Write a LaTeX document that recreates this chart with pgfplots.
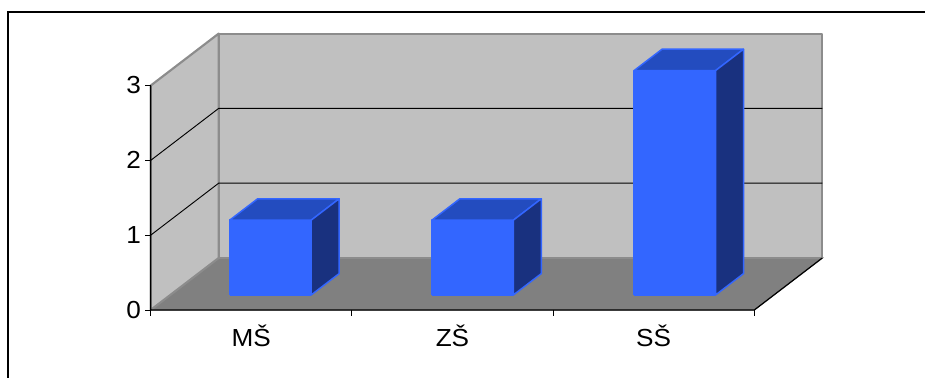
\documentclass[border=0pt]{standalone}
\usepackage{fontspec}
\setmainfont[FakeStretch=1.06]{Liberation Sans}
\usepackage{pgfplots}
\pgfplotsset{compat=1.18}
\definecolor{wall}{HTML}{C0C0C0}
\definecolor{floorgrey}{HTML}{808080}
\definecolor{edgegrey}{HTML}{8C8C8C}
\definecolor{barfront}{HTML}{3366FF}
\definecolor{bartop}{HTML}{234CBF}
\definecolor{barside}{HTML}{19317F}
\tikzset{
  face/.style={fill=#1, draw=barfront, line width=1.1pt, line join=round},
  axistext/.style={font=\fontsize{18.5}{20}\selectfont, text=black, inner sep=0pt},
}
\begin{document}
\begin{tikzpicture}
  \useasboundingbox (0pt,0pt) rectangle (693.75pt,283.5pt);
  % outer chart frame, open on the right and at the bottom
  \draw[black, line width=1.5pt] (6pt,0pt) -- (6pt,274.5pt) -- (693.75pt,274.5pt);
  \begin{axis}[
    at={(113.0pt,51pt)}, anchor=origin,
    x={(150.9pt,0pt)}, y={(51pt,39pt)}, z={(0pt,56.1pt)},
    xmin=0, xmax=3, ymin=0, ymax=1, zmin=0, zmax=3,
    hide axis, clip=false,
  ]
    % floor and walls
    \addplot3[fill=floorgrey, draw=floorgrey, line width=0.9pt] coordinates {(0,0,0) (3,0,0) (3,1,0) (0,1,0) (0,0,0)};
    \addplot3[fill=wall, draw=edgegrey, line width=1.6pt, line join=round] coordinates {(0,1,0) (3,1,0) (3,1,3) (0,1,3) (0,1,0)};
    \addplot3[fill=wall, draw=edgegrey, line width=1.6pt, line join=round] coordinates {(0,0,0) (0,1,0) (0,1,3) (0,0,3) (0,0,0)};
    % grid lines on the walls
    \addplot3[black, line width=0.7pt] coordinates {(0,0,1) (0,1,1) (3,1,1)};
    \addplot3[black, line width=0.7pt] coordinates {(0,0,2) (0,1,2) (3,1,2)};
    % axis lines and front floor edge
    \addplot3[black, line width=0.9pt] coordinates {(0,0,3) (0,0,0) (3,0,0) (3,1,0)};
    % bar MŠ = 1
    \addplot3[face=barfront] coordinates {(0.295,0.29,0) (0.7,0.29,0) (0.7,0.29,1) (0.295,0.29,1) (0.295,0.29,0)};
    \addplot3[face=bartop]   coordinates {(0.295,0.29,1) (0.7,0.29,1) (0.7,0.7,1) (0.295,0.7,1) (0.295,0.29,1)};
    \addplot3[face=barside]  coordinates {(0.7,0.29,0) (0.7,0.7,0) (0.7,0.7,1) (0.7,0.29,1) (0.7,0.29,0)};
    % bar ZŠ = 1
    \addplot3[face=barfront] coordinates {(1.3,0.29,0) (1.705,0.29,0) (1.705,0.29,1) (1.3,0.29,1) (1.3,0.29,0)};
    \addplot3[face=bartop]   coordinates {(1.3,0.29,1) (1.705,0.29,1) (1.705,0.7,1) (1.3,0.7,1) (1.3,0.29,1)};
    \addplot3[face=barside]  coordinates {(1.705,0.29,0) (1.705,0.7,0) (1.705,0.7,1) (1.705,0.29,1) (1.705,0.29,0)};
    % bar SŠ = 3
    \addplot3[face=barfront] coordinates {(2.305,0.29,0) (2.71,0.29,0) (2.71,0.29,3) (2.305,0.29,3) (2.305,0.29,0)};
    \addplot3[face=bartop]   coordinates {(2.305,0.29,3) (2.71,0.29,3) (2.71,0.7,3) (2.305,0.7,3) (2.305,0.29,3)};
    \addplot3[face=barside]  coordinates {(2.71,0.29,0) (2.71,0.7,0) (2.71,0.7,3) (2.71,0.29,3) (2.71,0.29,0)};
    % tick marks and value labels
    \foreach \t in {0,1,2,3} {
      \edef\temp{\noexpand\draw[black, line width=0.7pt] (axis cs:\t,0,0) -- ++(0pt,-4.5pt);
                 \noexpand\draw[black, line width=0.7pt] (axis cs:0,0,\t) -- ++(-4.5pt,0pt);
                 \noexpand\node[axistext, anchor=base] at ([xshift=-12.75pt,yshift=-6.2pt]axis cs:0,0,\t) {\t};}
      \temp
    }
    % category labels
    \node[axistext, anchor=base] at ([yshift=-27.5pt]axis cs:0.5,0,0) {MŠ};
    \node[axistext, anchor=base] at ([yshift=-27.5pt]axis cs:1.5,0,0) {ZŠ};
    \node[axistext, anchor=base] at ([yshift=-27.5pt]axis cs:2.5,0,0) {SŠ};
  \end{axis}
\end{tikzpicture}
\end{document}
